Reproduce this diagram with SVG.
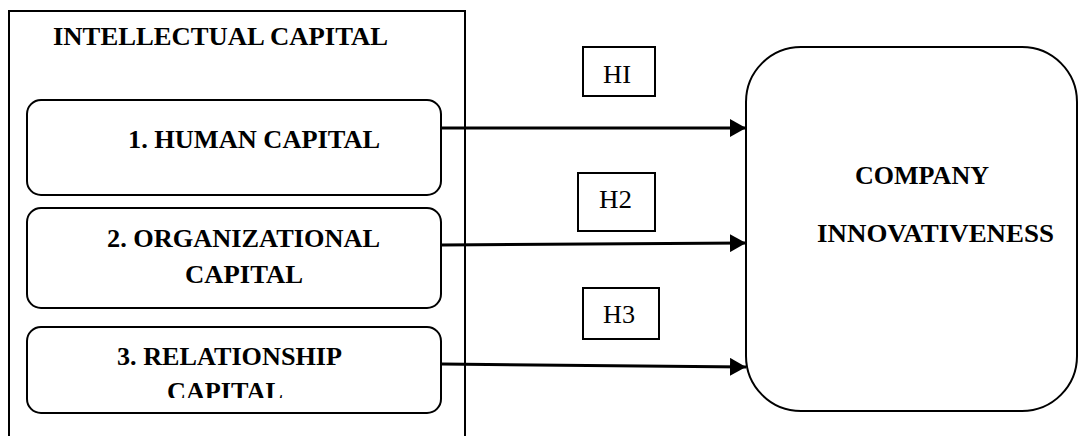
<svg xmlns="http://www.w3.org/2000/svg" width="1084" height="436" viewBox="0 0 1084 436">
<style>
text{font-family:"Liberation Serif","Times New Roman",serif;fill:#000}
.b{font-weight:bold;font-size:25px}
.r{font-size:26px}
.box{fill:#fff;stroke:#000;stroke-width:2}
.conn{stroke:#000;stroke-width:3;fill:none;marker-end:url(#ah)}
</style>
<defs>
<marker id="ah" markerUnits="userSpaceOnUse" markerWidth="16" markerHeight="18" refX="16" refY="9" orient="auto">
<path d="M0,0 L16,9 L0,18 Z" fill="#000"/>
</marker>
<clipPath id="clip3"><rect x="27" y="327" width="414" height="71"/></clipPath>
</defs>
<rect width="1084" height="436" fill="#fff"/>
<g id="intellectual-capital">
<path d="M9,440 V11 H465 V440" fill="none" stroke="#000" stroke-width="2"/>
<text class="b" x="53" y="45" textLength="335" lengthAdjust="spacingAndGlyphs">INTELLECTUAL CAPITAL</text>
</g>
<g id="human-capital">
<rect class="box" x="27" y="100" width="414" height="95" rx="14"/>
<text class="b" x="128" y="148" textLength="252" lengthAdjust="spacingAndGlyphs">1. HUMAN CAPITAL</text>
</g>
<g id="organizational-capital">
<rect class="box" x="27" y="208" width="414" height="100" rx="14"/>
<text class="b" x="107" y="247" textLength="273" lengthAdjust="spacingAndGlyphs">2. ORGANIZATIONAL</text>
<text class="b" x="185" y="283" textLength="118" lengthAdjust="spacingAndGlyphs">CAPITAL</text>
</g>
<g id="relationship-capital">
<rect class="box" x="27" y="327" width="414" height="86" rx="14"/>
<g clip-path="url(#clip3)">
<text class="b" x="117" y="365" textLength="225" lengthAdjust="spacingAndGlyphs">3. RELATIONSHIP</text>
<text class="b" x="167" y="400" textLength="116" lengthAdjust="spacingAndGlyphs">CAPITAL</text>
</g>
</g>
<g id="company-innovativeness">
<rect class="box" x="746" y="47" width="331" height="364" rx="55"/>
<text class="b" x="855" y="184" textLength="134" lengthAdjust="spacingAndGlyphs">COMPANY</text>
<text class="b" x="817" y="242" textLength="237" lengthAdjust="spacingAndGlyphs">INNOVATIVENESS</text>
</g>
<g id="connectors">
<line class="conn" x1="442" y1="128" x2="746" y2="128"/>
<line class="conn" x1="442" y1="245" x2="746" y2="243"/>
<line class="conn" x1="442" y1="364" x2="746" y2="367"/>
</g>
<g id="h1">
<rect class="box" x="583" y="47" width="72" height="49"/>
<text class="r" x="603" y="83" textLength="28" lengthAdjust="spacingAndGlyphs">HI</text>
</g>
<g id="h2">
<rect class="box" x="578" y="173" width="77" height="58"/>
<text class="r" x="599" y="208" textLength="33" lengthAdjust="spacingAndGlyphs">H2</text>
</g>
<g id="h3">
<rect class="box" x="583" y="288" width="76" height="51"/>
<text class="r" x="603" y="323" textLength="32" lengthAdjust="spacingAndGlyphs">H3</text>
</g>
</svg>
